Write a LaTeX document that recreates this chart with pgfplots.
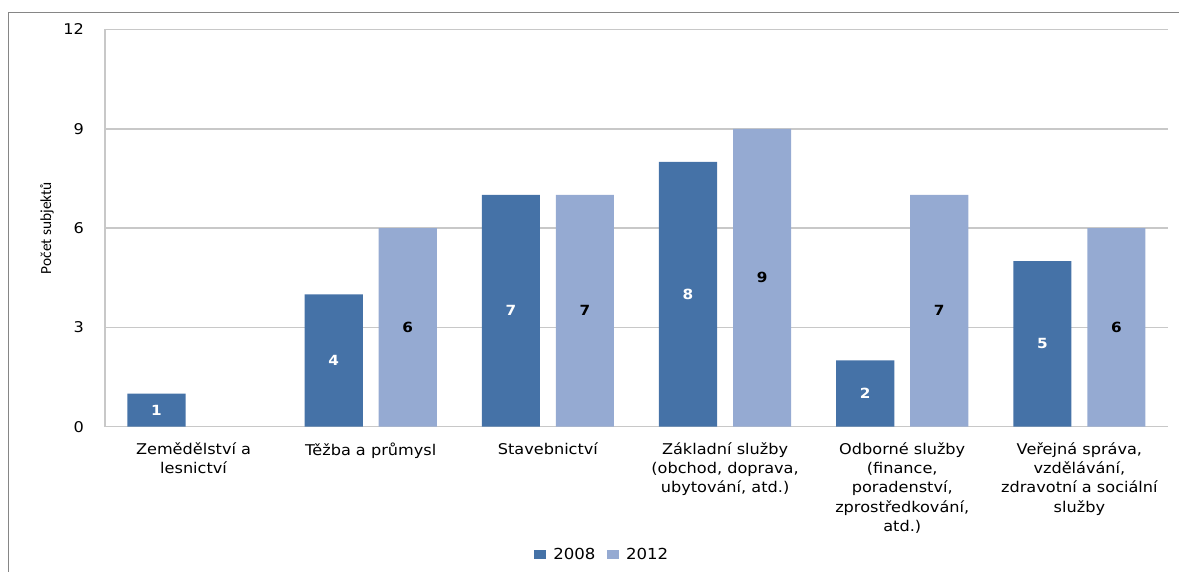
\documentclass[border=0pt]{standalone}
\usepackage{pgfplots}
\pgfplotsset{compat=1.18}
\usepackage{fontspec}
\setmainfont{DejaVu Sans}[FakeStretch=1.09]
\newfontfamily\carlito{Carlito}
\definecolor{cdark}{RGB}{69,114,167}
\definecolor{clight}{RGB}{149,170,210}
\definecolor{cgrid}{RGB}{200,200,200}
\definecolor{cframe}{RGB}{134,134,134}
\begin{document}
\begin{tikzpicture}
\useasboundingbox (0,0) rectangle (589.5pt,286pt);
\begin{axis}[
  at={(52.5pt,72.65pt)}, anchor=south west,
  width=531.5pt, height=198.6pt, scale only axis,
  xmin=-0.5, xmax=5.5, ymin=0, ymax=12,
  ytick={0,3,6,9,12},
  xtick={0,1,2,3,4,5},
  xticklabels={{Zemědělství a\\lesnictví},{Těžba a průmysl},{Stavebnictví},{Základní služby\\(obchod, doprava,\\ubytování, atd.)},{Odborné služby\\(finance,\\poradenství,\\zprostředkování,\\atd.)},{Veřejná správa,\\vzdělávání,\\zdravotní a sociální\\služby}},
  xticklabel style={align=center, anchor=north, yshift=-4.5pt, font=\fontsize{7.4}{9.6}\selectfont},
  yticklabel style={anchor=east, xshift=-7pt, font=\fontsize{7.4}{9}\selectfont},
  /pgf/number format/assume math mode=true,
  major tick length=0pt,
  axis x line*=bottom, axis y line*=left,
  axis line style={cgrid, line width=0.75pt, -},
  ymajorgrids, grid style={cgrid, line width=0.75pt},
  ylabel={Počet subjektů},
  ylabel style={at={(axis description cs:-0.0546,0.5)}, anchor=center, font=\carlito\fontsize{7.7}{9}\selectfont},
  ybar, bar width=0.328,
  visualization depends on={y \as \rawy},
  nodes near coords,
  every node near coord/.append style={anchor=center, shift={(axis direction cs:0,-\rawy/2)}, font=\bfseries\fontsize{7}{8}\selectfont},
  legend columns=2,
  legend style={at={(axis description cs:0.4685,-0.323)}, anchor=center, draw=none, fill=none,
    font=\fontsize{7.6}{9}\selectfont,
    /tikz/every odd column/.append style={column sep=1.5pt},
    /tikz/every even column/.append style={column sep=3.5pt}},
  legend image code/.code={\fill[#1] (0pt,-2.25pt) rectangle (6.25pt,2.25pt);},
]
\addplot[fill=cdark, draw=none, bar shift=-0.209, every node near coord/.append style={text=white}]
  coordinates {(0,1) (1,4) (2,7) (3,8) (4,2) (5,5)};
\addplot[fill=clight, draw=none, bar shift=0.209, every node near coord/.append style={text=black}]
  coordinates {(1,6) (2,7) (3,9) (4,7) (5,6)};
\legend{2008,2012}
\end{axis}
\begin{scope}
\clip (0,0) rectangle (589.5pt,286pt);
\draw[cframe, line width=0.75pt] (4.3pt,-2pt) -- (4.3pt,279.85pt) -- (595pt,279.85pt);
\end{scope}
\end{tikzpicture}
\end{document}
